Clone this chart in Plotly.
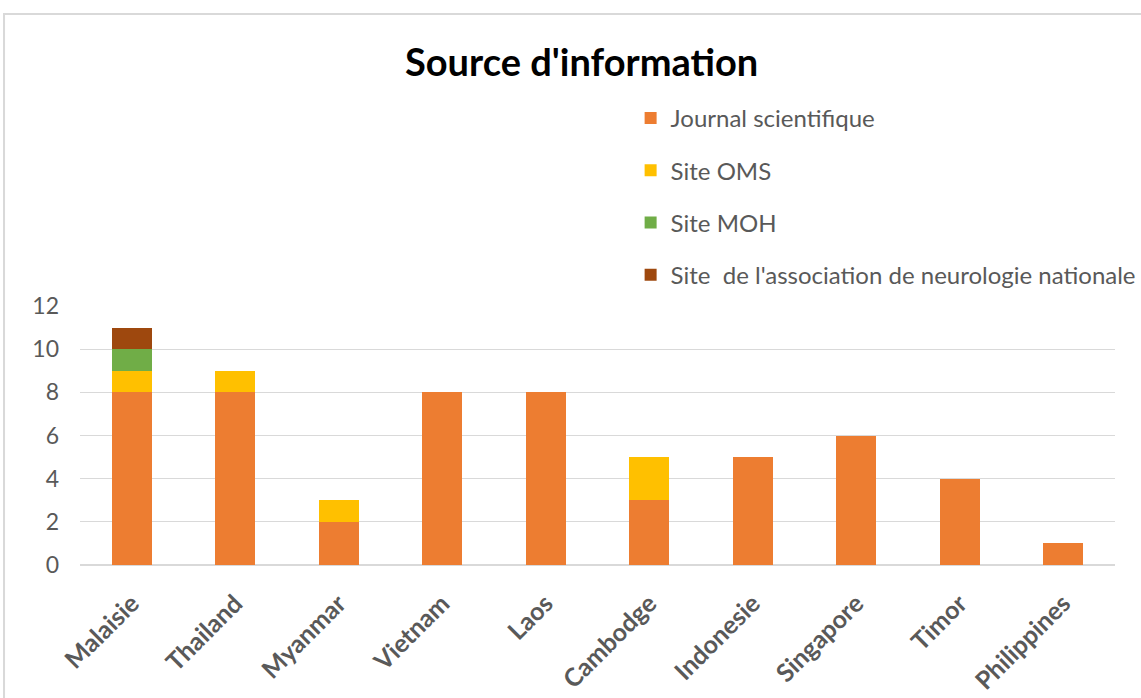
import plotly.graph_objects as go

countries = ["Malaisie", "Thailand", "Myanmar", "Vietnam", "Laos", "Cambodge",
             "Indonesie", "Singapore", "Timor", "Philippines"]
journal = [8, 8, 2, 8, 8, 3, 5, 6, 4, 1]
oms = [1, 1, 1, 0, 0, 2, 0, 0, 0, 0]
moh = [1, 0, 0, 0, 0, 0, 0, 0, 0, 0]
assoc = [1, 0, 0, 0, 0, 0, 0, 0, 0, 0]

series = [
    ("Journal scientifique", journal, "#ED7D31"),
    ("Site OMS", oms, "#FFC000"),
    ("Site MOH", moh, "#70AD47"),
    ("Site  de l'association de neurologie nationale", assoc, "#9E480E"),
]

FONT = "Lato, Open Sans, sans-serif"

fig = go.Figure()
for i, (name, vals, col) in enumerate(series):
    fig.add_trace(go.Bar(x=countries, y=vals, name=name, marker_color=col,
                         marker_line_width=0, legendgroup=f"g{i}"))

fig.update_layout(
    width=1141, height=698,
    barmode="stack", bargap=0.61,
    plot_bgcolor="white", paper_bgcolor="white",
    margin=dict(l=80, r=26, t=306, b=133, autoexpand=False),
    font=dict(family=FONT, color="#595959", size=23),
    showlegend=True,
    legend=dict(x=0.532, xanchor="left", y=1.811, yanchor="top",
                traceorder="grouped", tracegroupgap=18,
                font=dict(size=24, color="#595959"),
                itemwidth=30, bgcolor="rgba(0,0,0,0)"),
    annotations=[dict(text="<b>Source d'information</b>", xref="paper", yref="paper",
                      x=0.485, y=1.945, xanchor="center", yanchor="middle",
                      showarrow=False, font=dict(size=38, color="black", family=FONT))],
    shapes=[dict(type="rect", xref="paper", yref="paper",
                 x0=-0.0734, x1=1.2, y0=-1.0, y1=2.127,
                 line=dict(color="#D9D9D9", width=2), fillcolor="rgba(0,0,0,0)",
                 layer="below")],
)
fig.update_yaxes(range=[0, 12], dtick=2, showgrid=True, gridcolor="#D9D9D9",
                 gridwidth=1, zeroline=True, zerolinecolor="#D9D9D9",
                 ticks="", tickfont=dict(size=23, color="#595959"), ticklabelstandoff=20)
fig.update_xaxes(tickangle=-45, showline=False, ticks="", ticklabelstandoff=18,
                 tickfont=dict(size=25, color="#595959", weight="bold"))

fig.write_html("out.html", config={"displayModeBar": False},
               post_script="document.body.style.margin='0';")
